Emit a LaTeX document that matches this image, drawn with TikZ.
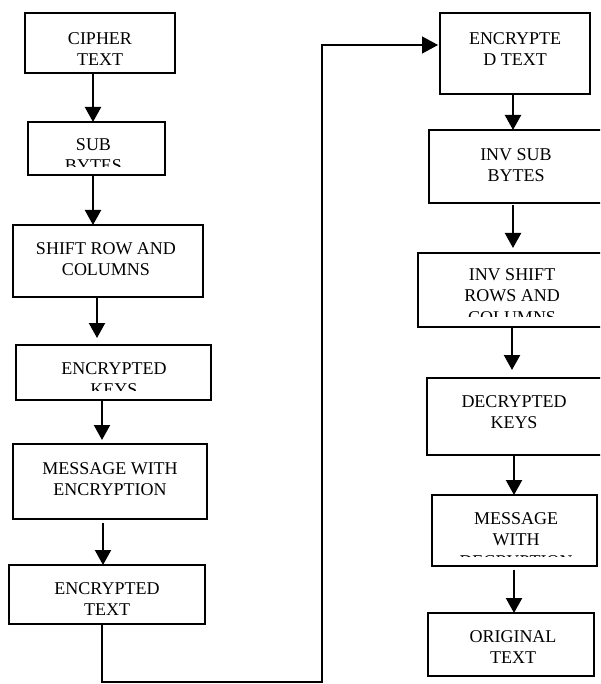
\documentclass[tikz,border=0pt]{standalone}
\usepackage{fontspec}
\setmainfont{Liberation Serif}
\usetikzlibrary{arrows.meta}

% text of a box, clipped to the box's inner text area
% #1 box name, #2 x, #3 y of the first line, #4 bottom margin, #5 text
\newcommand\cliplabel[5]{%
  \begin{scope}
    \clip ([yshift=#4]#1.south west) rectangle (#1.north east);
    \node[lbl] (#1t) at (#2,#3) {#5};
  \end{scope}}

\begin{document}
\begin{tikzpicture}[x=1pt,y=-1pt,
  stepbox/.style={draw=black, line width=1.5pt, inner sep=0pt, outer sep=0pt},
  lbl/.style={anchor=north, inner sep=0pt, align=center,
    font=\fontsize{18}{21.5}\selectfont},
  arr/.style={line width=2.2pt, -{Triangle[length=15pt,width=16pt]}},
  loopline/.style={line width=1.3pt, -{Triangle[length=16pt,width=17pt]}}]

\fill[white] (0,0) rectangle (600,684);
\useasboundingbox (0,0) rectangle (600,684);
\clip (0,0) rectangle (600,684);

% encryption column
\node[stepbox, minimum width=150pt, minimum height=60pt] (b1) at (100,43) {};
\node[stepbox, minimum width=137pt, minimum height=53pt] (b2) at (96.5,148.5) {};
\node[stepbox, minimum width=190pt, minimum height=72pt] (b3) at (108,261) {};
\node[stepbox, minimum width=195pt, minimum height=55pt] (b4) at (113.5,372.5) {};
\node[stepbox, minimum width=194pt, minimum height=75pt] (b5) at (110,481.5) {};
\node[stepbox, minimum width=196pt, minimum height=59pt] (b6) at (107,594.5) {};

% decryption column
\node[stepbox, minimum width=150pt, minimum height=81pt] (b7) at (515,53.5) {};
\node[stepbox, minimum width=174pt, minimum height=73pt] (b8) at (516,166.5) {};
\node[stepbox, minimum width=188pt, minimum height=74pt] (b9) at (512,290) {};
\node[stepbox, minimum width=178pt, minimum height=77pt] (b10) at (516,416.5) {};
\node[stepbox, minimum width=165pt, minimum height=71pt] (b11) at (514.5,530.5) {};
\node[stepbox, minimum width=166pt, minimum height=63pt] (b12) at (511,644.5) {};

\cliplabel{b1}{100}{32}{0pt}{CIPHER\\TEXT}
\cliplabel{b2}{93.5}{138}{8pt}{SUB\\BYTES}
\cliplabel{b3}{106}{242}{0pt}{SHIFT ROW AND\\COLUMNS}
\cliplabel{b4}{114}{362}{10pt}{ENCRYPTED\\KEYS}
\cliplabel{b5}{110}{462}{0pt}{MESSAGE WITH\\ENCRYPTION}
\cliplabel{b6}{107}{582}{0pt}{ENCRYPTED\\TEXT}
\cliplabel{b7}{515}{32}{0pt}{ENCRYPTE\\D TEXT}
\cliplabel{b8}{516}{148}{0pt}{INV SUB\\BYTES}
\cliplabel{b9}{512}{268}{11pt}{INV SHIFT\\ROWS AND\\COLUMNS}
\cliplabel{b10}{514}{395}{0pt}{DECRYPTED\\KEYS}
\cliplabel{b11}{516}{512}{10pt}{MESSAGE\\WITH\\DECRYPTION}
\cliplabel{b12}{513}{630}{0pt}{ORIGINAL\\TEXT}

% arrows between the steps
\draw[arr] ([xshift=-7pt]b1.south) -- ([xshift=-7pt]b1.south |- b2.north);
\draw[arr] ([xshift=-3.5pt]b2.south) -- ([xshift=-3.5pt]b2.south |- b3.north);
\draw[arr, shorten >=7pt] ([xshift=-11pt]b3.south) -- ([xshift=-11pt]b3.south |- b4.north);
\draw[arr, shorten >=4pt] ([xshift=-11.5pt]b4.south) -- ([xshift=-11.5pt]b4.south |- b5.north);
\draw[arr, shorten <=4pt] ([xshift=-7pt]b5.south) -- ([xshift=-7pt]b5.south |- b6.north);

\draw[arr] ([xshift=-2pt]b7.south) -- ([xshift=-2pt]b7.south |- b8.north);
\draw[arr, shorten <=2pt, shorten >=5pt] ([xshift=-3pt]b8.south) -- ([xshift=-3pt]b8.south |- b9.north);
\draw[arr, shorten >=8pt] (b9.south) -- (b9.south |- b10.north);
\draw[arr] ([xshift=-2pt]b10.south) -- ([xshift=-2pt]b10.south |- b11.north);
\draw[arr, shorten <=4pt] ([xshift=-0.5pt]b11.south) -- ([xshift=-0.5pt]b11.south |- b12.north);

% hand-over from the encryption column to the decryption column
\coordinate (turn) at (322,682);
\draw[loopline, shorten >=2pt] ([xshift=-5pt]b6.south) |- (turn) |- ([yshift=8.5pt]b7.west);

\end{tikzpicture}
\end{document}
